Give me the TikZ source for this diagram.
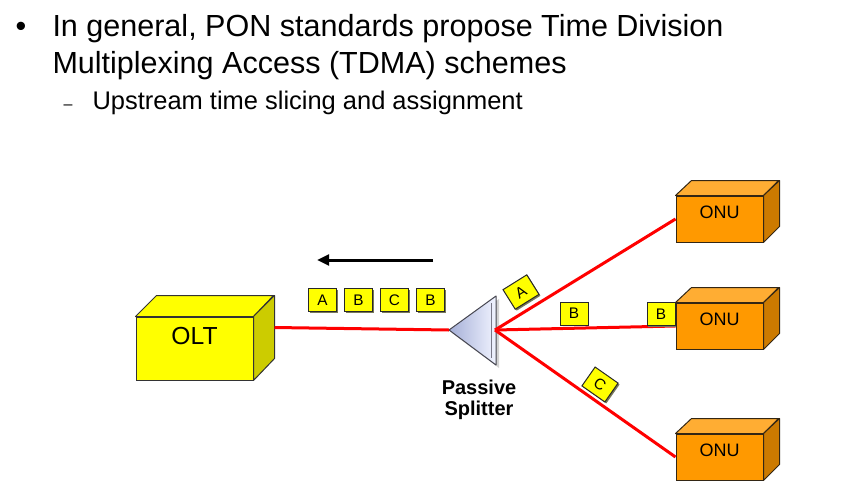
\documentclass[tikz,border=0pt]{standalone}
\usepackage{fontspec}
\setmainfont{Liberation Sans}
\usetikzlibrary{arrows.meta,shadows}

\tikzset{every picture/.style={line width=0.75pt}}

\begin{document}
\begin{tikzpicture}[x=0.75pt,y=0.75pt,yscale=-1,xscale=1,
  oltface/.style={draw={rgb, 255:red, 51; green, 51; blue, 51}, fill={rgb, 255:red, 255; green, 255; blue, 0}, inner sep=0pt, minimum width=87.75pt, minimum height=47.25pt},
  oltside/.style={draw={rgb, 255:red, 51; green, 51; blue, 51}, fill={rgb, 255:red, 204; green, 204; blue, 0}, line join=round},
  onuface/.style={draw={rgb, 255:red, 51; green, 38; blue, 20}, fill={rgb, 255:red, 255; green, 153; blue, 0}, inner sep=0pt, minimum width=65.25pt, minimum height=34.5pt},
  onutop/.style={draw={rgb, 255:red, 51; green, 38; blue, 20}, fill={rgb, 255:red, 255; green, 173; blue, 51}, line join=round},
  onuside/.style={draw={rgb, 255:red, 51; green, 38; blue, 20}, fill={rgb, 255:red, 204; green, 122; blue, 0}, line join=round},
  fibre/.style={draw={rgb, 255:red, 255; green, 0; blue, 0}, line width=2.25pt},
  slot/.style={draw={rgb, 255:red, 40; green, 40; blue, 40}, fill={rgb, 255:red, 255; green, 255; blue, 0}, inner sep=0pt, minimum width=21pt, minimum height=17.25pt, font=\fontsize{11.5}{12}\selectfont,
    drop shadow={shadow xshift=1.1pt, shadow yshift=-1.1pt, fill={rgb, 255:red, 120; green, 120; blue, 90}, opacity=1}},
  flow/.style={draw=black, line width=2.25pt, -{Triangle[length=9pt,width=8pt]}},
  boxlabel/.style={font=\fontsize{18.5}{20}\selectfont},
  lvlone/.style={anchor=base west, inner sep=0pt, font=\fontsize{22.9}{27}\selectfont},
  lvltwo/.style={anchor=base west, inner sep=0pt, font=\fontsize{19.1}{23}\selectfont}
]
\useasboundingbox (0,0) rectangle (867,493);

% Text Node
\draw (15,36) node [lvlone] (bul) {•};
% Text Node
\draw (52,36) node [lvlone] (line1) {In general, PON standards propose Time Division};
% Text Node
\draw (52,73) node [lvlone] (line2) {Multiplexing Access (TDMA) schemes};
% Text Node
\draw (63,109) node [anchor=base west, inner sep=0pt, font=\fontsize{12}{14}\selectfont] (dash) {–};
% Text Node
\draw (92,109) node [lvltwo] (line3) {Upstream time slicing and assignment};

%Shape: Cube [OLT]
\node [oltface] (olt) at (194.5,348.5) {};
\draw [oltside, fill={rgb, 255:red, 255; green, 255; blue, 0}] (olt.north west) -- ++(21,-21) -- ++(117,0) -- (olt.north east) -- cycle;
\draw [oltside] (olt.north east) -- ++(21,-21) -- ++(0,63) -- (olt.south east) -- cycle;
\coordinate (olt-port) at ([xshift=15.75pt,yshift=-15.75pt]olt.east);
% Text Node
\draw ([yshift=-9pt]olt.center) node [boxlabel] (olt-txt) {OLT};

%Shape: Cube [ONU]
\foreach \i/\y in {1/219,2/326,3/457}{
  \node [onuface] (onu\i) at (719.5,\y) {};
  \draw [onutop] (onu\i.north west) -- ++(16,-15) -- ++(87,0) -- (onu\i.north east) -- cycle;
  \draw [onuside] (onu\i.north east) -- ++(16,-15) -- ++(0,46) -- (onu\i.south east) -- cycle;
  \draw ([yshift=-5.25pt]onu\i.center) node [font=\fontsize{13.5}{14}\selectfont] (onu\i-txt) {ONU};
}

%Shape: Triangle [splitter]
\coordinate (spl-in) at (449,330);
\coordinate (spl-out) at (495,330);
\fill [gray!35] (452,333) -- (499,299) -- (499,368) -- cycle;
\draw [draw={rgb, 255:red, 70; green, 70; blue, 80}, left color={rgb, 255:red, 165; green, 175; blue, 215}, right color={rgb, 255:red, 240; green, 243; blue, 255}, line join=round] (spl-in) -- (496,296) -- (496,365) -- cycle;
\draw [draw={rgb, 255:red, 120; green, 120; blue, 135}] (491,303) -- (491,358);

%Straight Lines
\draw [fibre] (olt-port) -- (spl-in);
\draw [fibre] (spl-out) -- (onu1.west);
\draw [fibre] (spl-out) -- (onu2.west);
\draw [fibre] (spl-out) -- (onu3.west);

% Text Node
\draw (479,400) node [align=center, font=\bfseries\fontsize{15}{15.5}\selectfont] (spl-txt) {Passive\\Splitter};

%Straight Lines [direction]
\coordinate (dir-start) at (433,260);
\coordinate (dir-end) at (317,260);
\draw [flow] (dir-start) -- (dir-end);

%Shape: Rectangle [time slots]
\foreach \x/\t [count=\k] in {322.5/A,358.5/B,394.5/C,430.5/B}
  \node [slot] (up\k) at (\x,300) {\t};
\node [slot, rotate=32] (slotA) at (521,292) {A};
\node [slot] (slotB) at (574,313.5) {B};
\node [slot] (slotB2) at (661,314) {B};
\node [slot, rotate=-35] (slotC) at (600,384.5) {C};

\end{tikzpicture}
\end{document}
